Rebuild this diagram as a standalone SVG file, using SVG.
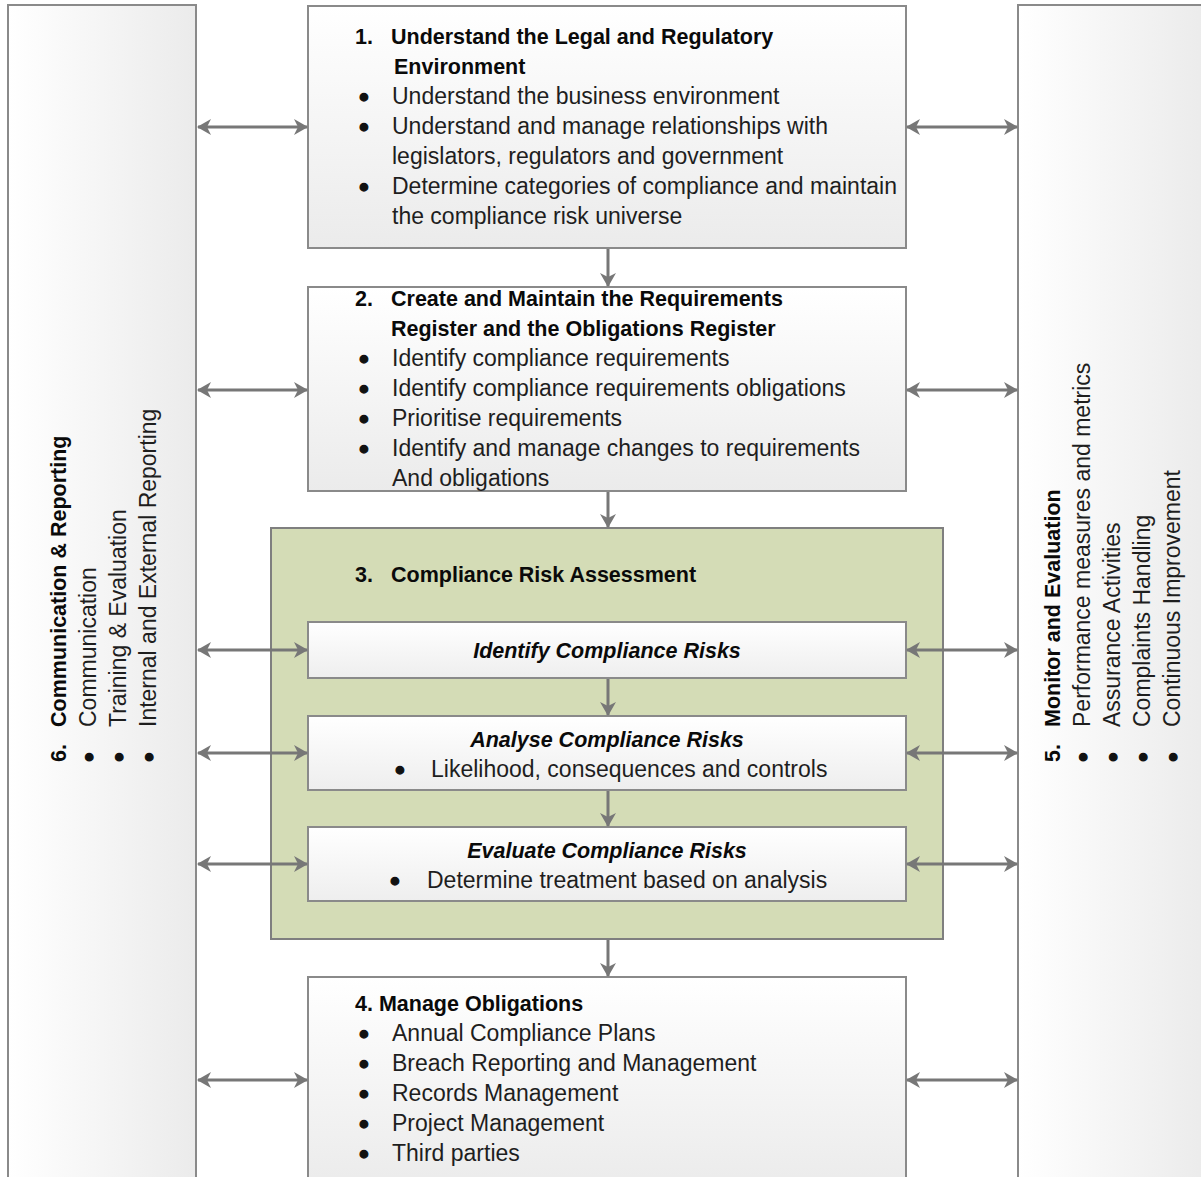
<svg xmlns="http://www.w3.org/2000/svg" width="1201" height="1177" viewBox="0 0 1201 1177">
<style>
.box{stroke:#8a8a8a;stroke-width:2}
.t{font-family:"Liberation Sans",Arial,sans-serif;font-size:23px;fill:#1e1e1e}
.u{font-family:"Liberation Sans",Arial,sans-serif;font-size:28px;fill:#111;stroke:#111;stroke-width:1.3}
.b{font-family:"Liberation Sans",Arial,sans-serif;font-size:21.5px;font-weight:bold;fill:#0a0a0a}
.bi{font-family:"Liberation Sans",Arial,sans-serif;font-size:21.5px;font-weight:bold;font-style:italic;fill:#0a0a0a}
.con{stroke:#777;stroke-width:3;fill:none}
</style>
<defs>
<linearGradient id="gv" x1="0" y1="0" x2="0" y2="1"><stop offset="0" stop-color="#ffffff"/><stop offset="1" stop-color="#ebebeb"/></linearGradient>
<linearGradient id="gh" x1="0" y1="0" x2="1" y2="0"><stop offset="0" stop-color="#ffffff"/><stop offset="1" stop-color="#ebebeb"/></linearGradient>
<linearGradient id="gs" x1="0" y1="0" x2="0" y2="1"><stop offset="0" stop-color="#ffffff"/><stop offset="1" stop-color="#eeeeee"/></linearGradient>
<marker id="ah" viewBox="0 0 14 16" refX="13" refY="8" markerWidth="14" markerHeight="16" markerUnits="userSpaceOnUse" orient="auto-start-reverse"><path d="M0,0 L14,8 L0,16 L4,8 z" fill="#777"/></marker>
</defs>

<g id="panel6">
<rect class="box" x="8" y="5" width="188" height="1180" fill="url(#gh)"/>
<g transform="translate(66,762) rotate(-90)"><text class="b" x="0" y="0">6.</text><text class="b" x="35" y="0">Communication &amp; Reporting</text></g>
<g transform="translate(96,762) rotate(-90)"><text class="u" x="0" y="2">•</text><text class="t" x="35" y="0">Communication</text></g>
<g transform="translate(126,762) rotate(-90)"><text class="u" x="0" y="2">•</text><text class="t" x="35" y="0">Training &amp; Evaluation</text></g>
<g transform="translate(156,762) rotate(-90)"><text class="u" x="0" y="2">•</text><text class="t" x="35" y="0">Internal and External Reporting</text></g>
</g>

<g id="panel5">
<rect class="box" x="1018" y="5" width="190" height="1180" fill="url(#gh)"/>
<g transform="translate(1060,762) rotate(-90)"><text class="b" x="0" y="0">5.</text><text class="b" x="35" y="0">Monitor and Evaluation</text></g>
<g transform="translate(1090,762) rotate(-90)"><text class="u" x="0" y="2">•</text><text class="t" x="35" y="0">Performance measures and metrics</text></g>
<g transform="translate(1120,762) rotate(-90)"><text class="u" x="0" y="2">•</text><text class="t" x="35" y="0">Assurance Activities</text></g>
<g transform="translate(1150,762) rotate(-90)"><text class="u" x="0" y="2">•</text><text class="t" x="35" y="0">Complaints Handling</text></g>
<g transform="translate(1180,762) rotate(-90)"><text class="u" x="0" y="2">•</text><text class="t" x="35" y="0">Continuous Improvement</text></g>
</g>

<g id="box1">
<rect class="box" x="308" y="6" width="598" height="242" fill="url(#gv)"/>
<text class="b" x="355" y="44">1.</text><text class="b" x="391" y="44">Understand the Legal and Regulatory</text>
<text class="b" x="394" y="74">Environment</text>
<text class="u" x="359" y="106">•</text><text class="t" x="392" y="104">Understand the business environment</text>
<text class="u" x="359" y="136">•</text><text class="t" x="392" y="134">Understand and manage relationships with</text>
<text class="t" x="392" y="164">legislators, regulators and government</text>
<text class="u" x="359" y="196">•</text><text class="t" x="392" y="194">Determine categories of compliance and maintain</text>
<text class="t" x="392" y="224">the compliance risk universe</text>
</g>

<g id="box2">
<rect class="box" x="308" y="287" width="598" height="204" fill="url(#gv)"/>
<text class="b" x="355" y="306">2.</text><text class="b" x="391" y="306">Create and Maintain the Requirements</text>
<text class="b" x="391" y="336">Register and the Obligations Register</text>
<text class="u" x="359" y="368">•</text><text class="t" x="392" y="366">Identify compliance requirements</text>
<text class="u" x="359" y="398">•</text><text class="t" x="392" y="396">Identify compliance requirements obligations</text>
<text class="u" x="359" y="428">•</text><text class="t" x="392" y="426">Prioritise requirements</text>
<text class="u" x="359" y="458">•</text><text class="t" x="392" y="456">Identify and manage changes to requirements</text>
<text class="t" x="392" y="486">And obligations</text>
</g>

<g id="box3">
<rect x="271" y="528" width="672" height="411" fill="#d4dcb6" stroke="#7f7f7f" stroke-width="2"/>
<text class="b" x="355" y="582">3.</text><text class="b" x="391" y="582">Compliance Risk Assessment</text>
</g>

<g id="identify">
<rect class="box" x="308" y="622" width="598" height="56" fill="url(#gs)"/>
<text class="bi" x="607" y="658" text-anchor="middle">Identify Compliance Risks</text>
</g>

<g id="analyse">
<rect class="box" x="308" y="716" width="598" height="74" fill="url(#gs)"/>
<text class="bi" x="607" y="747" text-anchor="middle">Analyse Compliance Risks</text>
<text class="u" x="395" y="779">•</text><text class="t" x="431" y="777">Likelihood, consequences and controls</text>
</g>

<g id="evaluate">
<rect class="box" x="308" y="827" width="598" height="74" fill="url(#gs)"/>
<text class="bi" x="607" y="858" text-anchor="middle">Evaluate Compliance Risks</text>
<text class="u" x="390" y="890">•</text><text class="t" x="427" y="888">Determine treatment based on analysis</text>
</g>

<g id="box4">
<rect class="box" x="308" y="977" width="598" height="210" fill="url(#gv)"/>
<text class="b" x="355" y="1011">4. Manage Obligations</text>
<text class="u" x="359" y="1043">•</text><text class="t" x="392" y="1041">Annual Compliance Plans</text>
<text class="u" x="359" y="1073">•</text><text class="t" x="392" y="1071">Breach Reporting and Management</text>
<text class="u" x="359" y="1103">•</text><text class="t" x="392" y="1101">Records Management</text>
<text class="u" x="359" y="1133">•</text><text class="t" x="392" y="1131">Project Management</text>
<text class="u" x="359" y="1163">•</text><text class="t" x="392" y="1161">Third parties</text>
</g>

<g id="connectors">
<line class="con" x1="608" y1="249" x2="608" y2="286" marker-end="url(#ah)"/>
<line class="con" x1="608" y1="492" x2="608" y2="527" marker-end="url(#ah)"/>
<line class="con" x1="608" y1="679" x2="608" y2="715" marker-end="url(#ah)"/>
<line class="con" x1="608" y1="791" x2="608" y2="826" marker-end="url(#ah)"/>
<line class="con" x1="608" y1="940" x2="608" y2="976" marker-end="url(#ah)"/>
<line class="con" x1="198" y1="127" x2="307" y2="127" marker-start="url(#ah)" marker-end="url(#ah)"/>
<line class="con" x1="198" y1="390" x2="307" y2="390" marker-start="url(#ah)" marker-end="url(#ah)"/>
<line class="con" x1="198" y1="650" x2="307" y2="650" marker-start="url(#ah)" marker-end="url(#ah)"/>
<line class="con" x1="198" y1="753" x2="307" y2="753" marker-start="url(#ah)" marker-end="url(#ah)"/>
<line class="con" x1="198" y1="864" x2="307" y2="864" marker-start="url(#ah)" marker-end="url(#ah)"/>
<line class="con" x1="198" y1="1080" x2="307" y2="1080" marker-start="url(#ah)" marker-end="url(#ah)"/>
<line class="con" x1="907" y1="127" x2="1017" y2="127" marker-start="url(#ah)" marker-end="url(#ah)"/>
<line class="con" x1="907" y1="390" x2="1017" y2="390" marker-start="url(#ah)" marker-end="url(#ah)"/>
<line class="con" x1="907" y1="650" x2="1017" y2="650" marker-start="url(#ah)" marker-end="url(#ah)"/>
<line class="con" x1="907" y1="753" x2="1017" y2="753" marker-start="url(#ah)" marker-end="url(#ah)"/>
<line class="con" x1="907" y1="864" x2="1017" y2="864" marker-start="url(#ah)" marker-end="url(#ah)"/>
<line class="con" x1="907" y1="1080" x2="1017" y2="1080" marker-start="url(#ah)" marker-end="url(#ah)"/>
</g>
</svg>
